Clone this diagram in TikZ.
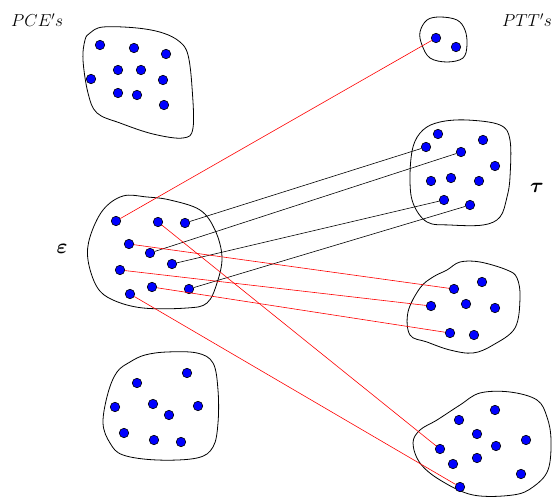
\documentclass[tikz,border=0pt]{standalone}
\usepackage{amsmath,amssymb,bm}
\begin{document}
\begin{tikzpicture}[x=1pt,y=-1pt,
  dot/.style={circle,draw=black,fill=blue,line width=0.6pt,inner sep=0pt,minimum size=9.5pt},
  blob/.style={draw=black,line width=0.8pt},
  rl/.style={draw=red,line width=0.6pt},
  bl/.style={draw=black,line width=0.6pt}]
\useasboundingbox (0,0) rectangle (552,497);
% outlines
\draw[blob] plot[smooth cycle,tension=0.6] coordinates {(90,33) (103,27) (137,28) (163,33) (180,42) (188,55) (192,87) (193,128) (183,138) (153,134) (120,123) (97,113) (88,93) (83,60) (85,40)};
\draw[blob] plot[smooth cycle,tension=0.6] coordinates {(427,20) (440,17) (457,20) (465,30) (467,45) (463,58) (447,62) (430,58) (422,45) (420,32)};
\draw[blob] plot[smooth cycle,tension=0.6] coordinates {(123,196) (147,197) (170,200) (200,210) (215,230) (222,257) (217,283) (207,303) (187,308) (143,308) (113,300) (97,287) (88,260) (90,237) (103,210)};
\draw[blob] plot[smooth cycle,tension=0.6] coordinates {(440,122) (467,120) (500,125) (510,140) (510,177) (507,197) (500,217) (483,225) (450,225) (427,222) (413,203) (410,177) (413,147) (423,130)};
\draw[blob] plot[smooth cycle,tension=0.6] coordinates {(447,270) (460,262) (480,262) (507,270) (517,278) (520,298) (515,328) (493,345) (473,353) (450,350) (427,342) (410,335) (408,312) (420,288) (433,277)};
\draw[blob] plot[smooth cycle,tension=0.6] coordinates {(460,405) (480,393) (510,392) (537,400) (547,417) (551,440) (548,470) (533,487) (513,495) (473,495) (440,480) (420,463) (413,443) (420,430) (437,420)};
\draw[blob] plot[smooth cycle,tension=0.6] coordinates {(145,355) (167,352) (197,353) (213,363) (218,390) (218,423) (213,447) (197,458) (157,460) (123,455) (110,443) (103,423) (108,393) (117,372) (130,362)};
% top-left dots
\foreach \x/\y [count=\i] in {100/45,134/48,166/54,118/70,141/70,163/80,91/79,118/93,137/95,164/105}
  \node[dot] (a\i) at (\x,\y) {};
% top-right small
\node[dot] (t1) at (436,38) {};
\node[dot] (t2) at (456,47) {};
% epsilon
\node[dot] (e1) at (116,221) {};
\node[dot] (e2) at (158,222) {};
\node[dot] (e3) at (185,223) {};
\node[dot] (e4) at (129,244) {};
\node[dot] (e5) at (150,253) {};
\node[dot] (e6) at (172,264) {};
\node[dot] (e7) at (120,270) {};
\node[dot] (e8) at (152,287) {};
\node[dot] (e9) at (189,289) {};
\node[dot] (e10) at (130,294) {};
% tau
\node[dot] (u1) at (438,134) {};
\node[dot] (u2) at (426,147) {};
\node[dot] (u3) at (483,140) {};
\node[dot] (u4) at (461,152) {};
\node[dot] (u5) at (495,166) {};
\node[dot] (u6) at (431,181) {};
\node[dot] (u7) at (451,178) {};
\node[dot] (u8) at (479,181) {};
\node[dot] (u9) at (444,200) {};
\node[dot] (u10) at (470,205) {};
% middle right
\node[dot] (m1) at (454,289) {};
\node[dot] (m2) at (482,282) {};
\node[dot] (m3) at (431,306) {};
\node[dot] (m4) at (466,304) {};
\node[dot] (m5) at (495,308) {};
\node[dot] (m6) at (450,333) {};
\node[dot] (m7) at (474,335) {};
% bottom right
\node[dot] (b1) at (459,420) {};
\node[dot] (b2) at (495,410) {};
\node[dot] (b3) at (477,434) {};
\node[dot] (b4) at (496,446) {};
\node[dot] (b5) at (526,440) {};
\node[dot] (b6) at (440,449) {};
\node[dot] (b7) at (453,464) {};
\node[dot] (b8) at (477,458) {};
\node[dot] (b9) at (521,474) {};
\node[dot] (b10) at (460,487) {};
% bottom left
\foreach \x/\y [count=\i] in {187/373,137/383,115/407,153/404,169/415,198/406,124/433,154/440,181/442}
  \node[dot] (c\i) at (\x,\y) {};
% connectors
\draw[rl] (e1) -- (t1);
\draw[bl] (e3) -- (u2);
\draw[bl] (e5) -- (u4);
\draw[bl] (e6) -- (u9);
\draw[bl] (e9) -- (u10);
\draw[rl] (e2) -- (b6);
\draw[rl] (e4) -- (m1);
\draw[rl] (e7) -- (m3);
\draw[rl] (e8) -- (m6);
\draw[rl] (e10) -- (b10);
% labels
\node[anchor=base west,inner sep=0pt,font=\fontsize{17.5}{19}\selectfont] (lp) at (11,27) {$PCE's$};
\node[anchor=base east,inner sep=0pt,font=\fontsize{17.5}{19}\selectfont] (lt) at (552,27) {$PTT's$};
\node[inner sep=0pt,font=\fontsize{22}{24}\selectfont] (le) at (62,249) {$\bm{\varepsilon}$};
\node[inner sep=0pt,font=\fontsize{22}{24}\selectfont] (ltau) at (537,188) {$\bm{\tau}$};
\end{tikzpicture}
\end{document}
